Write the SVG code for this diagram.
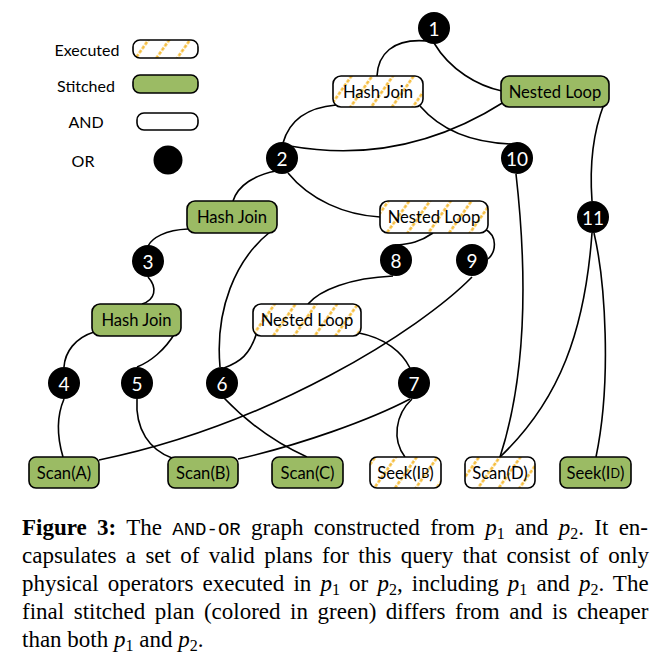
<svg xmlns="http://www.w3.org/2000/svg" width="660" height="663" viewBox="0 0 660 663">
<defs>
<pattern id="hatch" patternUnits="userSpaceOnUse" width="17" height="15" patternTransform="rotate(35)">
<rect width="17" height="15" fill="#ffffff"/>
<line x1="8.5" y1="0" x2="8.5" y2="15" stroke="#f5b930" stroke-width="2.4" stroke-dasharray="3.5 1.5"/>
</pattern>
</defs>
<style>
.box{stroke:#000;stroke-width:1.6}
.exe{fill:url(#hatch)}
.sti{fill:#9bbb64}
.and{fill:#fff}
.or{fill:#000}
.lbl{font-family:Lato,"Open Sans",sans-serif;font-size:16.6px;fill:#000;text-anchor:middle;dominant-baseline:central}
.num{font-family:Lato,"Open Sans",sans-serif;font-size:19px;fill:#fff;text-anchor:middle;dominant-baseline:central}
.leg{font-family:Lato,"Open Sans",sans-serif;font-size:16px;fill:#000;text-anchor:middle;dominant-baseline:central}
.edge{fill:none;stroke:#000;stroke-width:1.6}
.cap{font-family:"Liberation Serif","Times New Roman",serif;font-size:23px;fill:#000}
.sub{font-size:16px}
.mono{font-family:"Liberation Mono","Courier New",monospace;font-size:19px}
</style>

<g id="legend">
<text class="leg" x="87" y="49">Executed</text>
<rect class="box exe" x="133" y="40" width="65" height="18" rx="7"/>
<text class="leg" x="86" y="85">Stitched</text>
<rect class="box sti" x="133" y="75" width="65" height="18" rx="7"/>
<text class="leg" x="86" y="121">AND</text>
<rect class="box and" x="137" y="113" width="61" height="17" rx="7"/>
<text class="leg" x="83" y="160">OR</text>
<circle class="or" cx="168" cy="160" r="14.5"/>
</g>

<g id="connectors">
<path class="edge" d="M427 41 C392 38 378 55 377 76"/>
<path class="edge" d="M434 43 C450 70 478 86 502 91"/>
<path class="edge" d="M336 105 C302 108 288 125 283 143"/>
<path class="edge" d="M420 106 C445 135 480 143 512 144"/>
<path class="edge" d="M290 146 C380 162 452 135 504 102"/>
<path class="edge" d="M604 104 C594 130 589 160 592 201"/>
<path class="edge" d="M516 174 C528 280 525 380 500 457"/>
<path class="edge" d="M592 233 C585 330 560 400 500 457"/>
<path class="edge" d="M594 233 C605 280 612 380 596 457"/>
<path class="edge" d="M276 171 C255 175 238 185 233 201"/>
<path class="edge" d="M288 173 C310 200 345 215 380 217"/>
<path class="edge" d="M188 229 C165 230 152 238 148 246"/>
<path class="edge" d="M270 232 C235 260 215 310 220 367"/>
<path class="edge" d="M148 277 C158 288 155 300 142 304"/>
<path class="edge" d="M94 332 C75 338 65 352 64 367"/>
<path class="edge" d="M175 333 C165 350 150 362 137 367"/>
<path class="edge" d="M433 233 C420 242 410 244 397 245"/>
<path class="edge" d="M485 229 C498 236 496 252 488 259"/>
<path class="edge" d="M393 276 C350 278 320 290 308 304"/>
<path class="edge" d="M472 277 C420 330 270 425 99 460"/>
<path class="edge" d="M257 332 C250 355 240 362 224 368"/>
<path class="edge" d="M359 333 C385 338 402 352 410 368"/>
<path class="edge" d="M64 399 C55 420 58 440 63 457"/>
<path class="edge" d="M137 399 C135 430 150 450 172 458"/>
<path class="edge" d="M224 398 C250 425 280 445 307 457"/>
<path class="edge" d="M410 399 C370 420 300 445 238 459"/>
<path class="edge" d="M412 399 C395 415 392 440 405 457"/>
</g>

<g id="or1"><circle class="or" cx="434" cy="28" r="16"/><text class="num" x="434" y="28">1</text></g>
<g id="or2"><circle class="or" cx="282" cy="158" r="16"/><text class="num" x="282" y="158">2</text></g>
<g id="or3"><circle class="or" cx="148" cy="261" r="16"/><text class="num" x="148" y="261">3</text></g>
<g id="or4"><circle class="or" cx="64" cy="383" r="16"/><text class="num" x="64" y="383">4</text></g>
<g id="or5"><circle class="or" cx="137" cy="383" r="16"/><text class="num" x="137" y="383">5</text></g>
<g id="or6"><circle class="or" cx="222" cy="383" r="16"/><text class="num" x="222" y="383">6</text></g>
<g id="or7"><circle class="or" cx="414" cy="383" r="16"/><text class="num" x="414" y="383">7</text></g>
<g id="or8"><circle class="or" cx="396" cy="260" r="16"/><text class="num" x="396" y="260">8</text></g>
<g id="or9"><circle class="or" cx="472" cy="260" r="16"/><text class="num" x="472" y="260">9</text></g>
<g id="or10"><circle class="or" cx="517" cy="158" r="16"/><text class="num" x="517" y="158">10</text></g>
<g id="or11"><circle class="or" cx="593" cy="217" r="16"/><text class="num" x="593" y="217">11</text></g>

<g id="hj-top"><rect class="box exe" x="333" y="76" width="90" height="31" rx="8"/><text class="lbl" x="378" y="91.5">Hash Join</text></g>
<g id="nl-top"><rect class="box sti" x="501" y="76" width="108" height="31" rx="8"/><text class="lbl" x="555" y="91.5">Nested Loop</text></g>
<g id="hj-2"><rect class="box sti" x="187" y="201" width="90" height="32" rx="8"/><text class="lbl" x="232" y="217">Hash Join</text></g>
<g id="nl-up"><rect class="box exe" x="380" y="201" width="108" height="32" rx="8"/><text class="lbl" x="434" y="217">Nested Loop</text></g>
<g id="hj-3"><rect class="box sti" x="92" y="304" width="89" height="32" rx="8"/><text class="lbl" x="136.5" y="320">Hash Join</text></g>
<g id="nl-mid"><rect class="box exe" x="253" y="304" width="108" height="32" rx="8"/><text class="lbl" x="307" y="320">Nested Loop</text></g>
<g id="scan-a"><rect class="box sti" x="29" y="457" width="70" height="31" rx="7"/><text class="lbl" x="64" y="472.5">Scan(A)</text></g>
<g id="scan-b"><rect class="box sti" x="168" y="457" width="70" height="31" rx="7"/><text class="lbl" x="203" y="472.5">Scan(B)</text></g>
<g id="scan-c"><rect class="box sti" x="272" y="457" width="71" height="31" rx="7"/><text class="lbl" x="307.5" y="472.5">Scan(C)</text></g>
<g id="seek-ib"><rect class="box exe" x="370" y="457" width="71" height="31" rx="7"/><text class="lbl" x="405.5" y="472.5">Seek(I<tspan font-size="12.5">B</tspan>)</text></g>
<g id="scan-d"><rect class="box exe" x="465" y="457" width="70" height="31" rx="7"/><text class="lbl" x="500" y="472.5">Scan(D)</text></g>
<g id="seek-id"><rect class="box sti" x="560" y="457" width="71" height="31" rx="7"/><text class="lbl" x="595.5" y="472.5">Seek(I<tspan font-size="12.5">D</tspan>)</text></g>

<g id="caption">
<text class="cap" x="22" y="535" word-spacing="4.6"><tspan font-weight="bold">Figure 3:</tspan> The <tspan class="mono">AND-OR</tspan> graph constructed from <tspan font-style="italic">p</tspan><tspan class="sub" dy="4">1</tspan><tspan dy="-4"> and </tspan><tspan font-style="italic">p</tspan><tspan class="sub" dy="4">2</tspan><tspan dy="-4">.  It en-</tspan></text>
<text class="cap" x="22" y="563" word-spacing="3.6">capsulates a set of valid plans for this query that consist of only</text>
<text class="cap" x="22" y="591" word-spacing="3.4">physical operators executed in <tspan font-style="italic">p</tspan><tspan class="sub" dy="4">1</tspan><tspan dy="-4"> or </tspan><tspan font-style="italic">p</tspan><tspan class="sub" dy="4">2</tspan><tspan dy="-4">, including </tspan><tspan font-style="italic">p</tspan><tspan class="sub" dy="4">1</tspan><tspan dy="-4"> and </tspan><tspan font-style="italic">p</tspan><tspan class="sub" dy="4">2</tspan><tspan dy="-4">. The</tspan></text>
<text class="cap" x="22" y="619" word-spacing="3.8">final stitched plan (colored in green) differs from and is cheaper</text>
<text class="cap" x="22" y="647">than both <tspan font-style="italic">p</tspan><tspan class="sub" dy="4">1</tspan><tspan dy="-4"> and </tspan><tspan font-style="italic">p</tspan><tspan class="sub" dy="4">2</tspan><tspan dy="-4">.</tspan></text>
</g>
</svg>
